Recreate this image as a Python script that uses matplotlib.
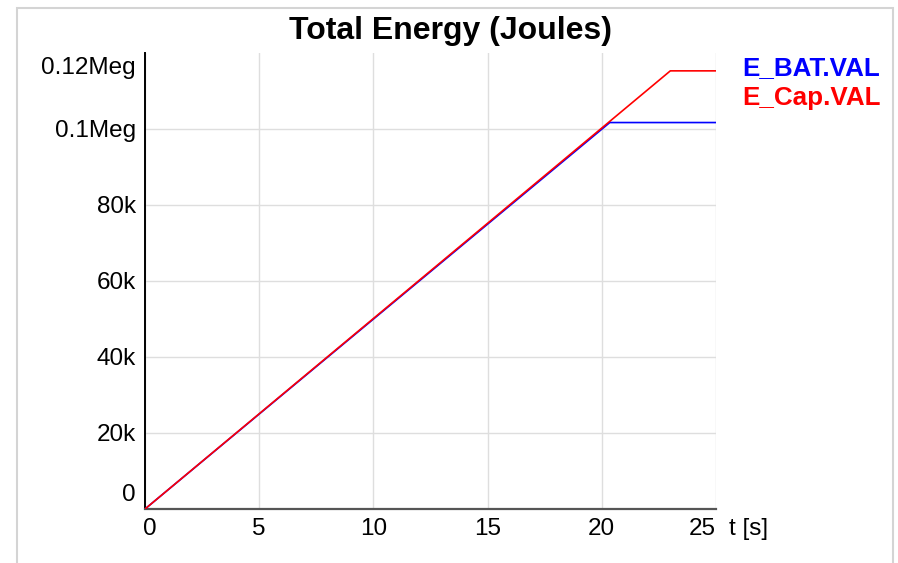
import matplotlib
matplotlib.use("Agg")
import matplotlib.pyplot as plt
from matplotlib.patches import Rectangle

plt.rcParams['font.family'] = ['Liberation Sans', 'DejaVu Sans']

# data
t_bat = [0, 20.35, 25]
e_bat = [0, 101700, 101700]
t_cap = [0, 23.0, 25]
e_cap = [0, 115300, 115300]

x_ticks = [0, 5, 10, 15, 20, 25]
y_ticks = [0, 20000, 40000, 60000, 80000, 100000, 120000]
y_labels = ['0', '20k', '40k', '60k', '80k', '0.1Meg', '0.12Meg']

W, H = 898, 563
fig = plt.figure(figsize=(W / 100, H / 100), dpi=100)
ax = fig.add_axes([145 / W, (H - 509) / H, (716 - 145) / W, (509 - 53) / H])

ax.plot(t_bat, e_bat, color='#0000ff', lw=1.2, zorder=3)
ax.plot(t_cap, e_cap, color='#ff0000', lw=1.2, zorder=4)

ax.set_xlim(0, 25)
ax.set_ylim(0, 120000)
ax.set_xticks(x_ticks)
ax.set_yticks(y_ticks)
ax.set_xticklabels([''] * len(x_ticks))
ax.set_yticklabels([''] * len(y_ticks))
ax.tick_params(length=0)
ax.grid(True, color='#dedede', lw=1.0)
ax.get_ygridlines()[-1].set_visible(False)
ax.set_axisbelow(True)

for s in ['top', 'right']:
    ax.spines[s].set_visible(False)
ax.spines['left'].set_color('black')
ax.spines['left'].set_linewidth(1.4)
ax.spines['bottom'].set_color('#555555')
ax.spines['bottom'].set_linewidth(1.6)

fs = 17.5
px = 0.72  # points per pixel
# y labels, end ones nudged inward
for v, lab in zip(y_ticks, y_labels):
    dy = -2
    if v == y_ticks[0]:
        dy = 14
    elif v == y_ticks[-1]:
        dy = -15
    ax.annotate(lab, xy=(0, v), xycoords=('axes fraction', 'data'),
                xytext=(-9 * px, dy * px), textcoords='offset points',
                ha='right', va='center', fontsize=fs)
# x labels, end ones nudged inward
for v in x_ticks:
    dx = 0
    ha = 'center'
    if v == x_ticks[0]:
        dx = 5
    elif v == x_ticks[-1]:
        ha = 'right'
    ax.annotate(str(v), xy=(v, 0), xycoords=('data', 'axes fraction'),
                xytext=(dx * px, -9 * px), textcoords='offset points',
                ha=ha, va='top', fontsize=fs)
ax.annotate('t [s]', xy=(1, 0), xycoords='axes fraction',
            xytext=(13 * px, -9 * px), textcoords='offset points',
            ha='left', va='top', fontsize=fs)

fig.text(451 / W, 1 - 31 / H, 'Total Energy (Joules)', ha='center', va='center',
         fontsize=23, fontweight='bold')
fig.text(742 / W, 1 - 68 / H, 'E_BAT.VAL', color='#0000ff', ha='left', va='center',
         fontsize=18.7, fontweight='bold')
fig.text(742 / W, 1 - 98 / H, 'E_Cap.VAL', color='#ff0000', ha='left', va='center',
         fontsize=18.7, fontweight='bold')

# light frame around the plot
fig.patches.append(Rectangle((16.5 / W, -0.1), (892.5 - 16.5) / W, 1.1 - 8 / H,
                             transform=fig.transFigure, fill=False,
                             edgecolor='#d4d4d4', lw=1.5))

fig.savefig('out.png', dpi=100)
